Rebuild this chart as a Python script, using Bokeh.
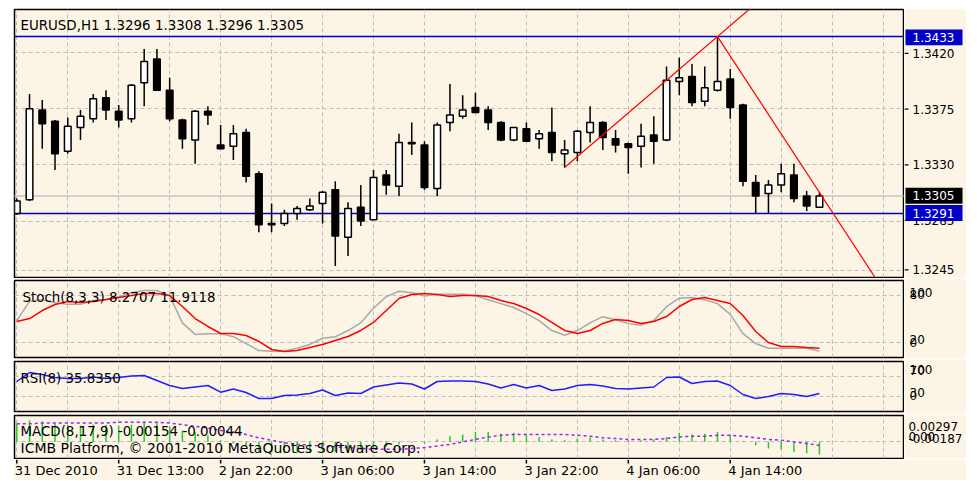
from bokeh.plotting import figure
from bokeh.layouts import column, row
from bokeh.models import Range1d, FixedTicker, Label, ColumnDataSource, Grid, Spacer
from bokeh.core.properties import value
from bokeh.embed import file_html
from bokeh.resources import INLINE

# ---------------- data ----------------
bars = list(range(64))
opens = [1.3291, 1.3302, 1.3374, 1.3365, 1.3341, 1.3360, 1.3367, 1.3384, 1.3373, 1.3367,
         1.3396, 1.3415, 1.3390, 1.3366, 1.3350, 1.3373, 1.3346, 1.3345, 1.3356, 1.3323,
         1.3282, 1.3283, 1.3291, 1.3294, 1.3299, 1.3310, 1.3272, 1.3296, 1.3286, 1.3322,
         1.3313, 1.3348, 1.3346, 1.3311, 1.3364, 1.3369, 1.3376, 1.3374, 1.3364, 1.3350,
         1.3359, 1.3351, 1.3356, 1.3339, 1.3340, 1.3356, 1.3364, 1.3351, 1.3347, 1.3345,
         1.3354, 1.3350, 1.3397, 1.3401, 1.3381, 1.3390, 1.3399, 1.3378, 1.3316, 1.3307,
         1.3314, 1.3322, 1.3305, 1.3296]
highs = [1.3303, 1.3387, 1.3382, 1.3366, 1.3368, 1.3374, 1.3387, 1.3390, 1.3378, 1.3395,
         1.3423, 1.3423, 1.3400, 1.3367, 1.3374, 1.3377, 1.3362, 1.3362, 1.3359, 1.3325,
         1.3299, 1.3294, 1.3297, 1.3303, 1.3309, 1.3317, 1.3300, 1.3314, 1.3326, 1.3326,
         1.3355, 1.3364, 1.3349, 1.3364, 1.3395, 1.3386, 1.3388, 1.3377, 1.3365, 1.3360,
         1.3364, 1.3358, 1.3376, 1.3350, 1.3358, 1.3377, 1.3365, 1.3358, 1.3348, 1.3363,
         1.3369, 1.3409, 1.3416, 1.3411, 1.3409, 1.3433, 1.3407, 1.3379, 1.3322, 1.3318,
         1.3331, 1.3331, 1.3309, 1.3308]
lows = [1.3290, 1.3301, 1.3343, 1.3326, 1.3339, 1.3350, 1.3364, 1.3366, 1.3360, 1.3364,
        1.3377, 1.3390, 1.3365, 1.3343, 1.3331, 1.3362, 1.3343, 1.3334, 1.3316, 1.3276,
        1.3276, 1.3281, 1.3286, 1.3293, 1.3283, 1.3249, 1.3257, 1.3281, 1.3286, 1.3306,
        1.3305, 1.3338, 1.3310, 1.3305, 1.3357, 1.3367, 1.3372, 1.3358, 1.3349, 1.3349,
        1.3349, 1.3343, 1.3333, 1.3328, 1.3333, 1.3348, 1.3342, 1.3340, 1.3323, 1.3328,
        1.3331, 1.3349, 1.3386, 1.3377, 1.3377, 1.3389, 1.3367, 1.3313, 1.3291, 1.3291,
        1.3308, 1.3300, 1.3293, 1.3296]
closes = [1.3301, 1.3375, 1.3363, 1.3339, 1.3361, 1.3369, 1.3383, 1.3374, 1.3366, 1.3394,
          1.3413, 1.3390, 1.3367, 1.3351, 1.3373, 1.3370, 1.3343, 1.3355, 1.3321, 1.3282,
          1.3283, 1.3291, 1.3295, 1.3297, 1.3308, 1.3273, 1.3295, 1.3285, 1.3320, 1.3314,
          1.3348, 1.3347, 1.3312, 1.3362, 1.3370, 1.3374, 1.3372, 1.3364, 1.3350, 1.3360,
          1.3349, 1.3355, 1.3340, 1.3342, 1.3357, 1.3364, 1.3352, 1.3346, 1.3344, 1.3353,
          1.3349, 1.3398, 1.3400, 1.3380, 1.3392, 1.3397, 1.3376, 1.3317, 1.3305, 1.3314,
          1.3323, 1.3303, 1.3297, 1.3305]

stoch_main = [48, 73, 75, 71, 69, 69, 74, 75, 79, 84, 87, 87, 80, 45, 30, 31,
              31, 27, 18, 9, 8, 8, 12, 17, 25, 27, 35, 45, 64, 79, 86, 84,
              80, 82, 82, 82, 80, 75, 70, 65, 57, 48, 35, 29, 35, 45, 53, 49,
              44, 42, 48, 66, 77, 78, 75, 70, 56, 31, 18, 12, 12, 12, 12, 8.2707]
stoch_signal = [46.8, 50.6, 61.0, 68.8, 72.7, 71.4, 72.7, 75.3, 77.9, 80.5, 83.1, 83.1,
                80.5, 66.2, 50.6, 40.3, 31.2, 31.2, 28.6, 20.8, 10.4, 7.8, 9.1, 13.0,
                16.9, 22.1, 27.3, 35.1, 45.5, 61.0, 76.6, 81.8, 83.1, 81.8, 79.2, 80.5,
                80.5, 79.2, 74.0, 70.1, 63.6, 55.8, 45.5, 35.1, 31.2, 35.1, 44.2, 49.4,
                48.1, 44.2, 46.8, 53.2, 66.2, 75.3, 77.9, 74.0, 70.1, 54.5, 33.8, 19.5,
                14.3, 14.3, 13.0, 11.9118]
rsi = [60, 78, 74, 68, 66, 66, 69, 66, 68, 71, 72, 62, 52, 46, 49, 52,
       38.6, 45, 38, 26, 26, 32, 33, 36, 43, 32, 37, 36, 49, 53, 57, 55,
       45, 60, 61, 61, 60, 55, 47, 54, 47, 52, 42, 45, 52, 54, 51, 46,
       45, 47, 49, 68, 69, 56, 60, 61, 52, 34, 26, 30, 36, 34, 30, 35.835]
macd_main = [0.0022, 0.0026, 0.0025, 0.0022, 0.0021, 0.0020, 0.0021, 0.0021, 0.0020, 0.0021,
             0.0024, 0.0023, 0.0019, 0.0014, 0.0012, 0.0008, 0.0002, -0.0002, -0.0006, -0.0011,
             -0.0013, -0.0014, -0.0014, -0.0013, -0.0011, -0.0012, -0.0011, -0.0010, -0.0008, -0.0006,
             -0.0003, -0.0001, -0.0002, 0.0003, 0.0007, 0.0009, 0.0012, 0.0012, 0.0010, 0.0011,
             0.0008, 0.0006, 0.0003, 0.0002, 0.0004, 0.0005, 0.0003, 0.0002, 0.0002, 0.0002,
             0.0003, 0.0006, 0.0011, 0.0009, 0.0010, 0.0012, 0.0008, 0.0001, -0.0004, -0.0008,
             -0.0009, -0.0012, -0.0014, -0.00154]
macd_signal = [0.0022, 0.0022, 0.0023, 0.0023, 0.0023, 0.0023, 0.0023, 0.0023, 0.0024, 0.0024,
               0.0024, 0.0024, 0.0023, 0.0021, 0.0019, 0.0017, 0.0014, 0.0012, 0.0009, 0.0005,
               0.0002, -0.0001, -0.0003, -0.0004, -0.0005, -0.0006, -0.0007, -0.0008, -0.0009, -0.0009,
               -0.0009, -0.0008, -0.0007, -0.0005, -0.0003, 0.0000, 0.0003, 0.0006, 0.0008, 0.0009,
               0.0009, 0.0009, 0.0009, 0.0009, 0.0008, 0.0007, 0.0005, 0.0004, 0.0003, 0.0003,
               0.0003, 0.0004, 0.0006, 0.0007, 0.0007, 0.0008, 0.0008, 0.0007, 0.0005, 0.0003,
               0.0002, 0.0000, -0.0002, -0.00044]

price_ticks = [1.3245, 1.3285, 1.3330, 1.3375, 1.3420]
price_tick_txt = ["1.3245", "1.3285", "1.3330", "1.3375", "1.3420"]
date_ticks = [0, 8, 16, 24, 32, 40, 48, 56]
date_labels = ["31 Dec 2010", "31 Dec 13:00", "2 Jan 22:00", "3 Jan 06:00",
               "3 Jan 14:00", "3 Jan 22:00", "4 Jan 06:00", "4 Jan 14:00"]
grid_x = list(range(0, 72, 4))
hlines = [1.3433, 1.3291]
bid = 1.3305
box_values = [1.3433, 1.3305, 1.3291]
box_txt = ["1.3433", "1.3305", "1.3291"]
box_colors = ["#0000C8", "#000000", "#0000C8"]
trend1 = [(43, 1.3328), (55, 1.3433)]
trend2 = [(55, 1.3433), (63, 1.3308)]
stoch_levels = [100, 80, 20, 0]
stoch_level_txt = ["100", "80", "20", "0"]
rsi_levels = [100, 70, 30, 0]
rsi_level_txt = ["100", "70", "30", "0"]
macd_levels = [0.00297, 0.0, -0.00187]
macd_level_txt = ["0.00297", "0.00", "-0.00187"]

title_main = "EURUSD,H1  1.3296 1.3308 1.3296 1.3305"
title_stoch = "Stoch(8,3,3) 8.2707 11.9118"
title_rsi = "RSI(8) 35.8350"
title_macd = "MACD(8,17,9) -0.00154 -0.00044"
copyright_txt = "ICMB Platform, \u00a9 2001-2010 MetaQuotes Software Corp."

# ---------------- style / geometry ----------------
BG = "#FCF5E6"
GRID = "#BDBDBD"
FONT = "DejaVu Sans"
LB, RB = 1, 1
FW = 889
PW = LB + FW + RB          # panel figure width
LW = 62                    # right label strip width

xr = Range1d(-0.18, 69.6)


def make_fig(fh, yr, top, bottom):
    f = figure(width=PW, height=fh + top + bottom, x_range=xr, y_range=yr,
               output_backend="svg", toolbar_location=None,
               min_border_left=LB, min_border_right=RB,
               min_border_top=top, min_border_bottom=bottom,
               x_axis_location=None, y_axis_location=None,
               background_fill_color=BG, border_fill_color=BG,
               outline_line_color="black", outline_line_width=1.5)
    f.grid.visible = False
    f.add_layout(Grid(dimension=0, ticker=FixedTicker(ticks=grid_x),
                      grid_line_color=GRID, grid_line_dash="4 3", grid_line_width=1))
    return f


def label_fig(fh, yr, top, bottom):
    pp = (yr.end - yr.start) / fh
    lyr = Range1d(yr.start - bottom * pp, yr.end + top * pp)
    f = figure(width=LW, height=fh + top + bottom, x_range=Range1d(0, LW), y_range=lyr,
               output_backend="svg", toolbar_location=None, min_border=0,
               x_axis_location=None, y_axis_location=None,
               background_fill_color=BG, border_fill_color=BG, outline_line_color=None)
    f.grid.visible = False
    return f, pp


def ygrid(f, ticks):
    f.add_layout(Grid(dimension=1, ticker=FixedTicker(ticks=ticks),
                      grid_line_color=GRID, grid_line_dash="4 3", grid_line_width=1))


def title(f, txt, x, y, size="13.4px"):
    f.add_layout(Label(x=x, y=y, x_units="screen", y_units="screen", text=txt,
                       text_font=FONT, text_font_size=size, text_color="black",
                       text_baseline="middle", text_align="left"))


def level_text(lf, pp, levels, texts, down_px, x):
    ys = [v - d * pp for v, d in zip(levels, down_px)]
    lf.text(x=[x] * len(ys), y=ys, text=texts, text_font=value(FONT),
            text_font_size=value("12px"), text_color="black",
            text_baseline="middle", text_align="left")


# ---------------- main chart ----------------
MH, MT, MB = 268, 1, 1
yr_main = Range1d(1.32397, 1.34547)
pm = make_fig(MH, yr_main, MT, MB)
ygrid(pm, price_ticks)

ups_i = [i for i in bars if closes[i] >= opens[i]]
dn_i = [i for i in bars if closes[i] < opens[i]]
src = ColumnDataSource(dict(x=bars, h=highs, l=lows))

for y in hlines:
    pm.line([xr.start - 5, xr.end + 5], [y, y], line_color="#0000CC", line_width=1.5)
pm.line([xr.start - 5, xr.end + 5], [bid, bid], line_color="#C4C4C4", line_width=1.5)

pm.segment(x0="x", y0="h", x1="x", y1="l", source=src, line_color="black", line_width=1.5)
up_src = ColumnDataSource(dict(x=[bars[i] for i in ups_i],
                               top=[closes[i] for i in ups_i],
                               bot=[opens[i] for i in ups_i]))
dn_src = ColumnDataSource(dict(x=[bars[i] for i in dn_i],
                               top=[opens[i] for i in dn_i],
                               bot=[closes[i] for i in dn_i]))
pm.vbar(x="x", top="top", bottom="bot", width=0.52, source=up_src,
        fill_color="white", line_color="black", line_width=1.5)
pm.vbar(x="x", top="top", bottom="bot", width=0.52, source=dn_src,
        fill_color="black", line_color="black", line_width=1.5)


def extend(p0, p1, xend):
    (x0, y0), (x1, y1) = p0, p1
    s = (y1 - y0) / (x1 - x0)
    return [x0, xend], [y0, y0 + s * (xend - x0)]


for tl in (trend1, trend2):
    xs, ys = extend(tl[0], tl[1], 90)
    pm.line(xs, ys, line_color="#FF0000", line_width=1.2)

title(pm, title_main, 6, MH - 16)

lm, ppm = label_fig(MH, yr_main, MT, MB)
lm.segment(x0=[0] * len(price_ticks), y0=price_ticks, x1=[4] * len(price_ticks),
           y1=price_ticks, line_color="black", line_width=1.2)
level_text(lm, ppm, price_ticks, price_tick_txt, [0] * len(price_ticks), 8)
lm.quad(left=[1] * 3, right=[58] * 3,
        top=[v + 8 * ppm for v in box_values], bottom=[v - 8 * ppm for v in box_values],
        fill_color=box_colors, line_color=None)
lm.text(x=[8] * 3, y=box_values, text=box_txt, text_font=value(FONT),
        text_font_size=value("12px"), text_color="white",
        text_baseline="middle", text_align="left")

# ---------------- stochastic ----------------
SH = 77
yr_s = Range1d(0, 100)
ps = make_fig(SH, yr_s, 2, 2)
ygrid(ps, [20, 80])
ps.line(bars, stoch_main, line_color="#A8A8A8", line_width=1.5)
ps.line(bars, stoch_signal, line_color="#FF0000", line_width=1.5)
title(ps, title_stoch, 8, SH - 17)
ls, pps = label_fig(SH, yr_s, 2, 2)
level_text(ls, pps, stoch_levels, stoch_level_txt, [10.8, -2.4, -1.1, -13.5], 5)

# ---------------- RSI ----------------
RH = 50
yr_r = Range1d(0, 100)
pr = make_fig(RH, yr_r, 2, 2)
ygrid(pr, [30, 70])
pr.line(bars, rsi, line_color="#1E1EFF", line_width=1.5)
title(pr, title_rsi, 6, RH - 17)
lr, ppr = label_fig(RH, yr_r, 2, 2)
level_text(lr, ppr, rsi_levels, rsi_level_txt, [6.5, -7, -3, -15], 5)

# ---------------- MACD ----------------
CH = 43
yr_c = Range1d(-0.00203, 0.00322)
pc = make_fig(CH, yr_c, 2, 1)
ygrid(pc, [0])
pc.segment(x0=bars, y0=[0] * 64, x1=bars, y1=macd_main, line_color="#22CC22", line_width=1.5)
pc.line(bars, macd_signal, line_color="#A020F0", line_width=1.5, line_dash="3 3")
title(pc, title_macd, 6, CH - 16)
title(pc, copyright_txt, 6, CH - 32, "14px")
lc, ppc = label_fig(CH, yr_c, 2, 1)
level_text(lc, ppc, macd_levels, macd_level_txt, [8, -6.4, -18.7], 4)

# ---------------- date strip ----------------
DH = 21
pd_ = figure(width=PW + LW, height=DH, x_range=xr, y_range=Range1d(0, DH),
             output_backend="svg", toolbar_location=None,
             min_border_left=LB, min_border_right=RB + LW, min_border_top=0,
             min_border_bottom=0, x_axis_location=None, y_axis_location=None,
             background_fill_color=BG, border_fill_color=BG, outline_line_color=None)
pd_.grid.visible = False
pd_.segment(x0=date_ticks, y0=[DH] * len(date_ticks), x1=date_ticks,
            y1=[DH - 4] * len(date_ticks), line_color="black", line_width=1.5)
pd_.text(x=date_ticks, y=[DH - 11] * len(date_ticks), text=date_labels,
         text_font=value(FONT), text_font_size=value("13px"), text_color="black",
         text_baseline="middle", text_align="left", x_offset=-2)

panels = column(row(pm, lm, spacing=0), row(ps, ls, spacing=0), row(pr, lr, spacing=0),
                row(pc, lc, spacing=0), pd_, spacing=0)
layout = column(Spacer(width=10, height=8),
                row(Spacer(width=13, height=10), panels, spacing=0), spacing=0)
open("out.html", "w").write(file_html(layout, INLINE))
